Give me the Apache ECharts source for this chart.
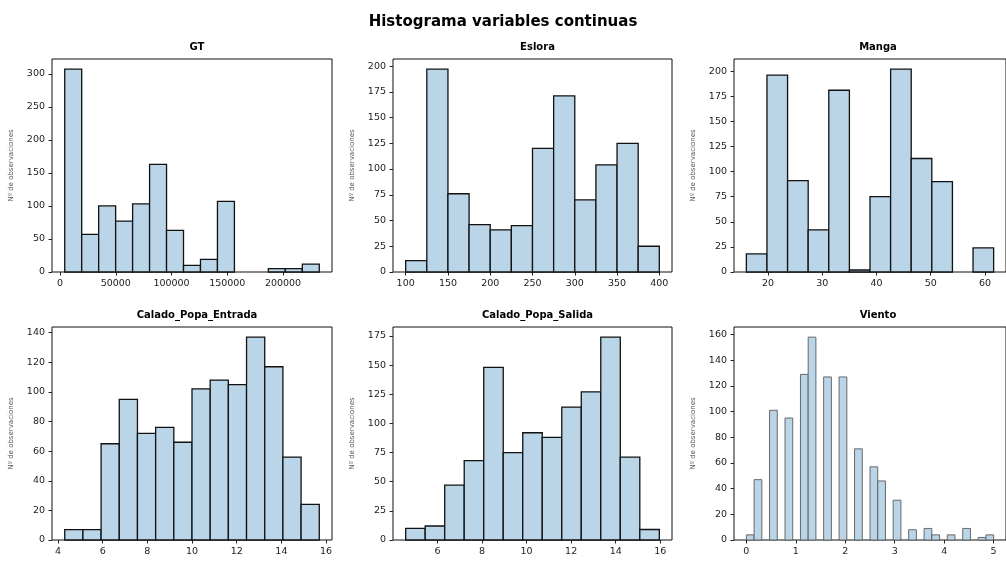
<!DOCTYPE html>
<html>
<head>
<meta charset="utf-8">
<script src="https://cdn.jsdelivr.net/npm/echarts@6/dist/echarts.min.js"></script>
<style>
  html, body { margin: 0; padding: 0; background: #fff; }
  #chart { width: 1006px; height: 565px; }
</style>
</head>
<body>
<div id="chart"></div>
<script>
// histogram counts, first bin edge and bin width
var gtCounts = [307, 57, 100, 77, 103, 163, 63, 10, 19, 107, 0, 0, 5, 5, 12];
var gtStart = 4220, gtWidth = 15220;
var gtXTicks = [0, 50000, 100000, 150000, 200000];
var gtYTicks = [0, 50, 100, 150, 200, 250, 300];

var esloraCounts = [11, 197, 76, 46, 41, 45, 120, 171, 70, 104, 125, 25];
var esloraStart = 100, esloraWidth = 25;
var esloraXTicks = [100, 150, 200, 250, 300, 350, 400];
var esloraYTicks = [0, 25, 50, 75, 100, 125, 150, 175, 200];

var mangaCounts = [18, 196, 91, 42, 181, 2, 75, 202, 113, 90, 0, 24];
var mangaStart = 16, mangaWidth = 3.8;
var mangaXTicks = [20, 30, 40, 50, 60];
var mangaYTicks = [0, 25, 50, 75, 100, 125, 150, 175, 200];

var entradaCounts = [7, 7, 65, 95, 72, 76, 66, 102, 108, 105, 137, 117, 56, 24];
var entradaStart = 4.3, entradaWidth = 0.814;
var entradaXTicks = [4, 6, 8, 10, 12, 14, 16];
var entradaYTicks = [0, 20, 40, 60, 80, 100, 120, 140];

var salidaCounts = [10, 12, 47, 68, 148, 75, 92, 88, 114, 127, 174, 71, 9];
var salidaStart = 4.57, salidaWidth = 0.876;
var salidaXTicks = [6, 8, 10, 12, 14, 16];
var salidaYTicks = [0, 25, 50, 75, 100, 125, 150, 175];

var vientoCounts = [4, 47, 0, 101, 0, 95, 0, 129, 158, 0, 127, 0, 127, 0, 71, 0,
                    57, 46, 0, 31, 0, 8, 0, 9, 4, 0, 4, 0, 9, 0, 2, 4];
var vientoStart = 0, vientoWidth = 0.15625;
var vientoXTicks = [0, 1, 2, 3, 4, 5];
var vientoYTicks = [0, 20, 40, 60, 80, 100, 120, 140, 160];

var panels = [
  { name: 'GT', counts: gtCounts, start: gtStart, width: gtWidth, xt: gtXTicks, yt: gtYTicks,
    left: 52, top: 59, w: 280, edge: '#111', lw: 1.3 },
  { name: 'Eslora', counts: esloraCounts, start: esloraStart, width: esloraWidth, xt: esloraXTicks, yt: esloraYTicks,
    left: 393, top: 59, w: 279, edge: '#111', lw: 1.3 },
  { name: 'Manga', counts: mangaCounts, start: mangaStart, width: mangaWidth, xt: mangaXTicks, yt: mangaYTicks,
    left: 734, top: 59, w: 278, edge: '#111', lw: 1.3 },
  { name: 'Calado_Popa_Entrada', counts: entradaCounts, start: entradaStart, width: entradaWidth, xt: entradaXTicks, yt: entradaYTicks,
    left: 52, top: 327, w: 280, edge: '#111', lw: 1.3 },
  { name: 'Calado_Popa_Salida', counts: salidaCounts, start: salidaStart, width: salidaWidth, xt: salidaXTicks, yt: salidaYTicks,
    left: 393, top: 327, w: 279, edge: '#111', lw: 1.3 },
  { name: 'Viento', counts: vientoCounts, start: vientoStart, width: vientoWidth, xt: vientoXTicks, yt: vientoYTicks,
    left: 734, top: 327, w: 278, edge: '#5a5a5a', lw: 0.9 }
];

var font = 'DejaVu Sans';
var fill = '#bad5e8';
var plotH = 213;

var titles = [{
  text: 'Histograma variables continuas',
  left: 'center', top: 10,
  textStyle: { fontFamily: font, fontSize: 15, fontWeight: 'bold', color: '#000' }
}];
var grids = [], xAxes = [], yAxes = [], series = [];

panels.forEach(function (p, i) {
  var end = p.start + p.counts.length * p.width;
  var pad = (end - p.start) * 0.05;
  var data = [];
  p.counts.forEach(function (c, k) {
    if (c > 0) data.push([p.start + k * p.width, p.start + (k + 1) * p.width, c]);
  });

  titles.push({
    text: p.name,
    left: p.left + p.w / 2, top: p.top - 22, textAlign: 'center',
    textStyle: { fontFamily: font, fontSize: 10, fontWeight: 'bold', color: '#000' }
  });
  grids.push({
    left: p.left, top: p.top, width: p.w, height: plotH,
    show: true, borderColor: '#111', borderWidth: 1, backgroundColor: 'transparent'
  });
  xAxes.push({
    type: 'value', gridIndex: i,
    min: p.start - pad, max: end + pad,
    axisLine: { show: false, onZero: false },
    splitLine: { show: false },
    axisTick: { show: true, length: 3.5, lineStyle: { color: '#222' }, customValues: p.xt },
    axisLabel: {
      customValues: p.xt, margin: 7, fontFamily: font, fontSize: 9.5, color: '#222',
      formatter: function (v) { return String(v); }
    }
  });
  yAxes.push({
    type: 'value', gridIndex: i,
    min: 0, max: Math.max.apply(null, p.counts) * 1.05,
    name: 'Nº de observaciones', nameLocation: 'middle', nameGap: 37,
    nameTextStyle: { fontFamily: font, fontSize: 7, color: '#555' },
    axisLine: { show: false, onZero: false },
    splitLine: { show: false },
    axisTick: { show: true, length: 3.5, lineStyle: { color: '#222' }, customValues: p.yt },
    axisLabel: {
      customValues: p.yt, margin: 7, fontFamily: font, fontSize: 9.5, color: '#222',
      formatter: function (v) { return String(v); }
    }
  });
  series.push({
    type: 'custom', xAxisIndex: i, yAxisIndex: i,
    data: data,
    renderItem: function (params, api) {
      var a = api.coord([api.value(0), api.value(2)]);
      var b = api.coord([api.value(1), 0]);
      return {
        type: 'rect',
        shape: { x: a[0], y: a[1], width: b[0] - a[0], height: b[1] - a[1] },
        style: { fill: fill, stroke: p.edge, lineWidth: p.lw }
      };
    }
  });
});

var chart = echarts.init(document.getElementById('chart'));
chart.setOption({
  animation: false,
  backgroundColor: '#fff',
  title: titles,
  grid: grids,
  xAxis: xAxes,
  yAxis: yAxes,
  series: series
});
</script>
</body>
</html>
